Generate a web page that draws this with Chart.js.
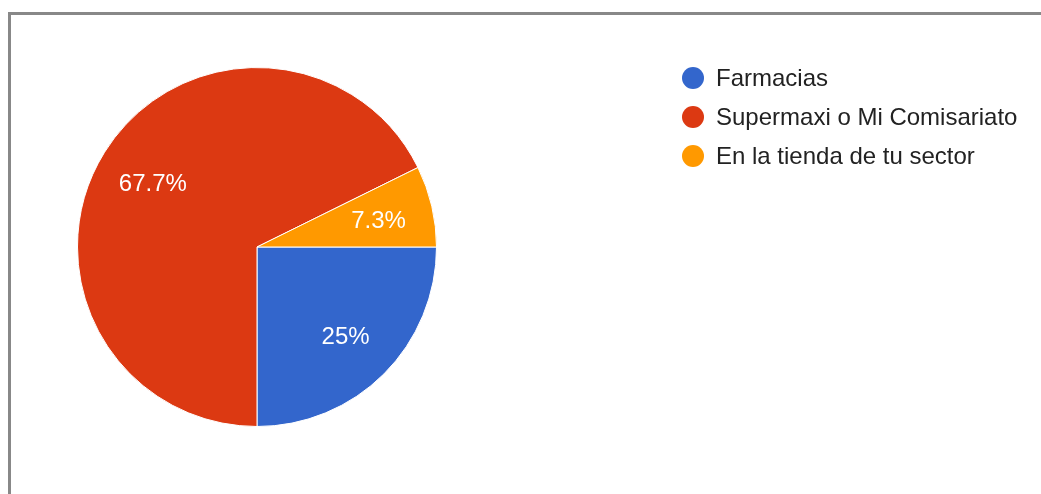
<!DOCTYPE html>
<html>
<head>
<meta charset="utf-8">
<script src="https://cdn.jsdelivr.net/npm/chart.js@4.4.1/dist/chart.umd.min.js"></script>
<style>
    html, body { margin: 0; padding: 0; background: #fff; }
    #wrap { position: relative; width: 1041px; height: 494px; overflow: hidden; }
    #frame {
        position: absolute; left: 8px; top: 12px;
        width: 1100px; height: 600px;
        border: 3px solid #888; box-sizing: border-box;
    }
    #chart-box { position: absolute; left: 0; top: 0; width: 1041px; height: 494px; }
</style>
</head>
<body>
<div id="wrap">
    <div id="frame"></div>
    <div id="chart-box"><canvas id="pie"></canvas></div>
</div>
<script>
// data
const labels  = ['Farmacias', 'Supermaxi o Mi Comisariato', 'En la tienda de tu sector'];
const values  = [25, 67.7, 7.3];
const pctText = ['25%', '67.7%', '7.3%'];
const colors  = ['#3366CC', '#DC3912', '#FF9900'];

const FONT = '"Liberation Sans", Arial, sans-serif';

// percentage labels inside the slices
const sliceLabels = {
    id: 'sliceLabels',
    afterDatasetsDraw(chart) {
        const ctx = chart.ctx;
        const arcs = chart.getDatasetMeta(0).data;
        ctx.save();
        ctx.fillStyle = '#fff';
        ctx.font = '24px ' + FONT;
        ctx.textAlign = 'center';
        ctx.textBaseline = 'middle';
        arcs.forEach((arc, i) => {
            const mid = (arc.startAngle + arc.endAngle) / 2;
            const r = arc.outerRadius * 0.69;
            ctx.fillText(pctText[i], arc.x + Math.cos(mid) * r + 1, arc.y + Math.sin(mid) * r + 3);
        });
        ctx.restore();
    }
};

// legend on the right, one row per category
const sideLegend = {
    id: 'sideLegend',
    afterDraw(chart) {
        const ctx = chart.ctx;
        ctx.save();
        ctx.font = '24px ' + FONT;
        ctx.textBaseline = 'middle';
        labels.forEach((lab, i) => {
            const y = 78 + i * 39;
            ctx.fillStyle = colors[i];
            ctx.beginPath();
            ctx.arc(693, y, 11, 0, Math.PI * 2);
            ctx.fill();
            ctx.fillStyle = '#222';
            ctx.fillText(lab, 716, y + 1);
        });
        ctx.restore();
    }
};

new Chart(document.getElementById('pie'), {
    type: 'pie',
    data: {
        labels: labels,
        datasets: [{
            data: values,
            backgroundColor: colors,
            borderColor: '#fff',
            borderWidth: 1
        }]
    },
    options: {
        responsive: true,
        maintainAspectRatio: false,
        animation: false,
        rotation: 90,
        layout: { padding: { left: 77, top: 67, right: 604, bottom: 67 } },
        plugins: {
            legend: { display: false },
            tooltip: { enabled: false }
        }
    },
    plugins: [sliceLabels, sideLegend]
});
</script>
</body>
</html>
